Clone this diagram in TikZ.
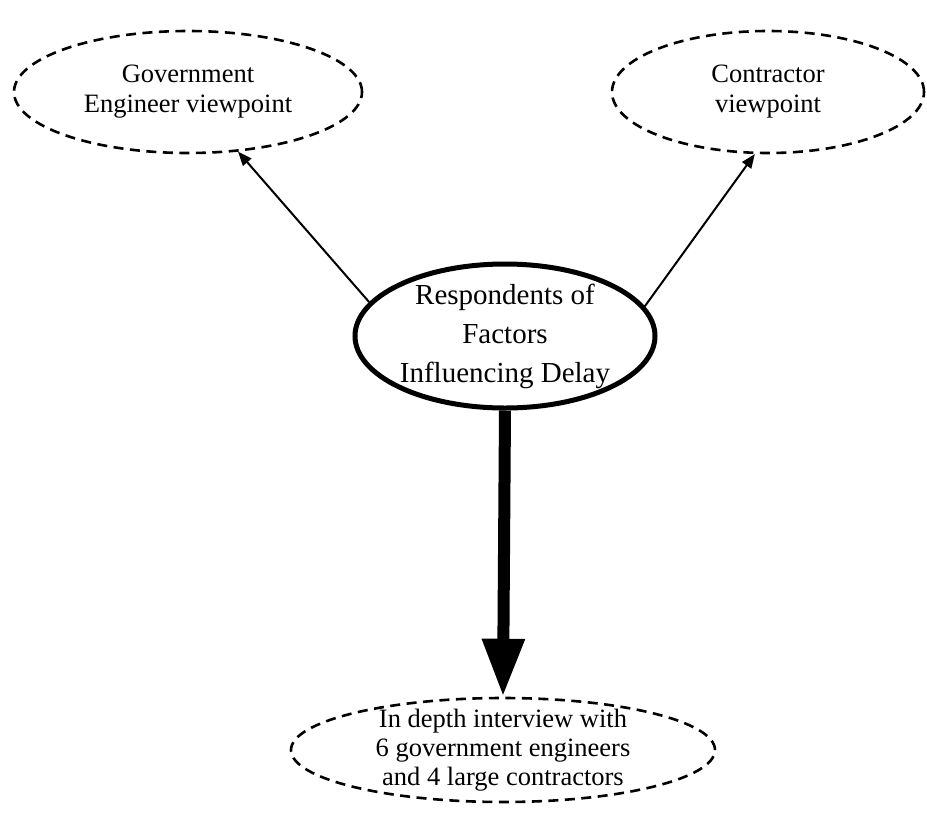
\documentclass[tikz,border=0pt]{standalone}
\usepackage{fontspec}
\setmainfont{Liberation Serif}
\usetikzlibrary{shapes.geometric,arrows.meta}

\tikzset{
  viewbox/.style={ellipse, draw, line width=2.6pt, dash pattern=on 10pt off 6.5pt, inner sep=0pt},
  corebox/.style={ellipse, draw, line width=5pt, inner sep=0pt},
  lbl/.style={align=center, font=\fontsize{26.5}{30}\selectfont},
  corelbl/.style={align=center, font=\fontsize{29}{39}\selectfont},
  thinarrow/.style={line width=2pt, -{Triangle[length=14pt,width=11pt]}},
  thickarrow/.style={line width=12pt, -{Triangle[length=58pt,width=40pt]}}
}

\begin{document}
\begin{tikzpicture}[x=1pt,y=-1pt]
  \useasboundingbox (0,0) rectangle (927,812);

  % viewpoint ellipses
  \node[viewbox, minimum width=348pt, minimum height=122pt] (gov) at (188,92) {};
  \node[lbl] (govt) at (gov.center) {Government\\Engineer viewpoint};

  \node[viewbox, minimum width=312pt, minimum height=122pt] (con) at (768,92) {};
  \node[lbl] (cont) at (con.center) {Contractor\\viewpoint};

  % central ellipse
  \node[corebox, minimum width=300pt, minimum height=144pt] (core) at (505,336) {};
  \node[corelbl] (coret) at (core.center) {Respondents of\\Factors\\Influencing Delay};

  % interview ellipse
  \node[viewbox, minimum width=424pt, minimum height=104pt] (intv) at (503,750) {};
  \node[lbl, font=\fontsize{26.5}{29}\selectfont] (intvt) at (intv.center) {In depth interview with\\6 government engineers\\and 4 large contractors};

  % connectors
  \draw[thinarrow] (core.166) -- (gov.-50);
  \draw[thinarrow] (core.12) -- (con.-102);
  \draw[thickarrow] (core.south) -- (intv.north);
\end{tikzpicture}
\end{document}
